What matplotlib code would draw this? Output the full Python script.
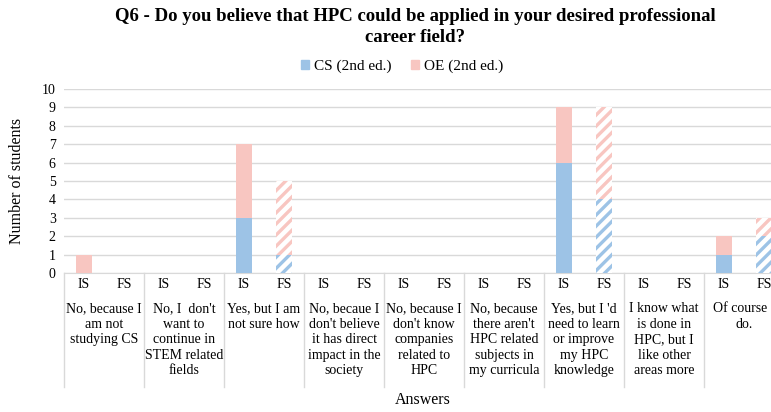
import matplotlib
matplotlib.use('Agg')
import matplotlib.pyplot as plt
from matplotlib.patches import Patch
import numpy as np

plt.rcParams['font.family'] = ['Liberation Serif', 'DejaVu Serif']
plt.rcParams['hatch.linewidth'] = 2.4

answers = ["No, because I\nam not\nstudying CS",
           "No, I  don't\nwant to\ncontinue in\nSTEM related\nfields",
           "Yes, but I am\nnot sure how",
           "No, becaue I\ndon't believe\nit has direct\nimpact in the\nsociety",
           "No, because I\ndon't know\ncompanies\nrelated to\nHPC",
           "No, because\nthere aren't\nHPC related\nsubjects in\nmy curricula",
           "Yes, but I 'd\nneed to learn\nor improve\nmy HPC\nknowledge",
           "I know what\nis done in\nHPC, but I\nlike other\nareas more",
           "Of course I\ndo."]
stages = ['IS', 'FS']

cs_is = [0, 0, 3, 0, 0, 0, 6, 0, 1]
oe_is = [1, 0, 4, 0, 0, 0, 3, 0, 1]
cs_fs = [0, 0, 1, 0, 0, 0, 4, 0, 2]
oe_fs = [0, 0, 4, 0, 0, 0, 5, 0, 1]

blue = '#9DC3E6'
pink = '#F8C6C1'

W, H = 771, 412
fig = plt.figure(figsize=(W / 100, H / 100), dpi=100)
ax = fig.add_axes([64 / W, (H - 273) / H, 720 / W, 184 / H])

n = len(answers)
x = np.arange(n)
bw = 0.21

ax.bar(x + 0.25, cs_is, bw, color=blue, linewidth=0, zorder=3)
ax.bar(x + 0.25, oe_is, bw, bottom=cs_is, color=pink, linewidth=0, zorder=3)
ax.bar(x + 0.75, cs_fs, bw, facecolor='white', edgecolor=blue, hatch='///',
       linewidth=0, zorder=3)
ax.bar(x + 0.75, oe_fs, bw, bottom=cs_fs, facecolor='white', edgecolor=pink,
       hatch='///', linewidth=0, zorder=3)

ax.set_xlim(0, n)
ax.set_ylim(0, 10)
ax.set_yticks(range(11))
ax.tick_params(axis='y', length=0, labelsize=10, pad=6)
ax.set_xticks([])
ax.yaxis.grid(True, color='#D9D9D9', linewidth=1)
ax.set_axisbelow(True)
for s in ['top', 'right', 'left']:
    ax.spines[s].set_visible(False)
ax.spines['bottom'].set_color('#D9D9D9')

trans = ax.get_xaxis_transform()
px = 1 / 184
for i in range(n + 1):
    ax.plot([i, i], [0, -114 * px], color='#D9D9D9', linewidth=1,
            transform=trans, clip_on=False)
for i in range(n):
    for j, st in enumerate(stages):
        ax.text(i + 0.25 + 0.5 * j, -12 * px, st, transform=trans,
                ha='center', va='center', fontsize=10)
    ax.text(i + 0.5, -29 * px, answers[i], transform=trans, ha='center',
            va='top', fontsize=10, linespacing=1.26)

fig.text(415 / W, 1 - 8 / H,
         'Q6 - Do you believe that HPC could be applied in your desired professional\ncareer field?',
         ha='center', va='top', fontsize=13.5, fontweight='bold',
         linespacing=1.3)
fig.text(17 / W, 1 - 181 / H, 'Number of students', rotation=90,
         ha='center', va='center', fontsize=11.5)
fig.text(423 / W, 1 - 400 / H, 'Answers', ha='center', va='center',
         fontsize=11.5)

handles = [Patch(color=blue, label='CS (2nd ed.)'),
           Patch(color=pink, label='OE (2nd ed.)')]
fig.legend(handles=handles, loc='center', bbox_to_anchor=(402 / W, 1 - 66 / H),
           ncol=2, frameon=False, fontsize=11, handlelength=0.55,
           handleheight=0.55, handletextpad=0.3, columnspacing=1.3)

fig.savefig('out.png', dpi=100)
